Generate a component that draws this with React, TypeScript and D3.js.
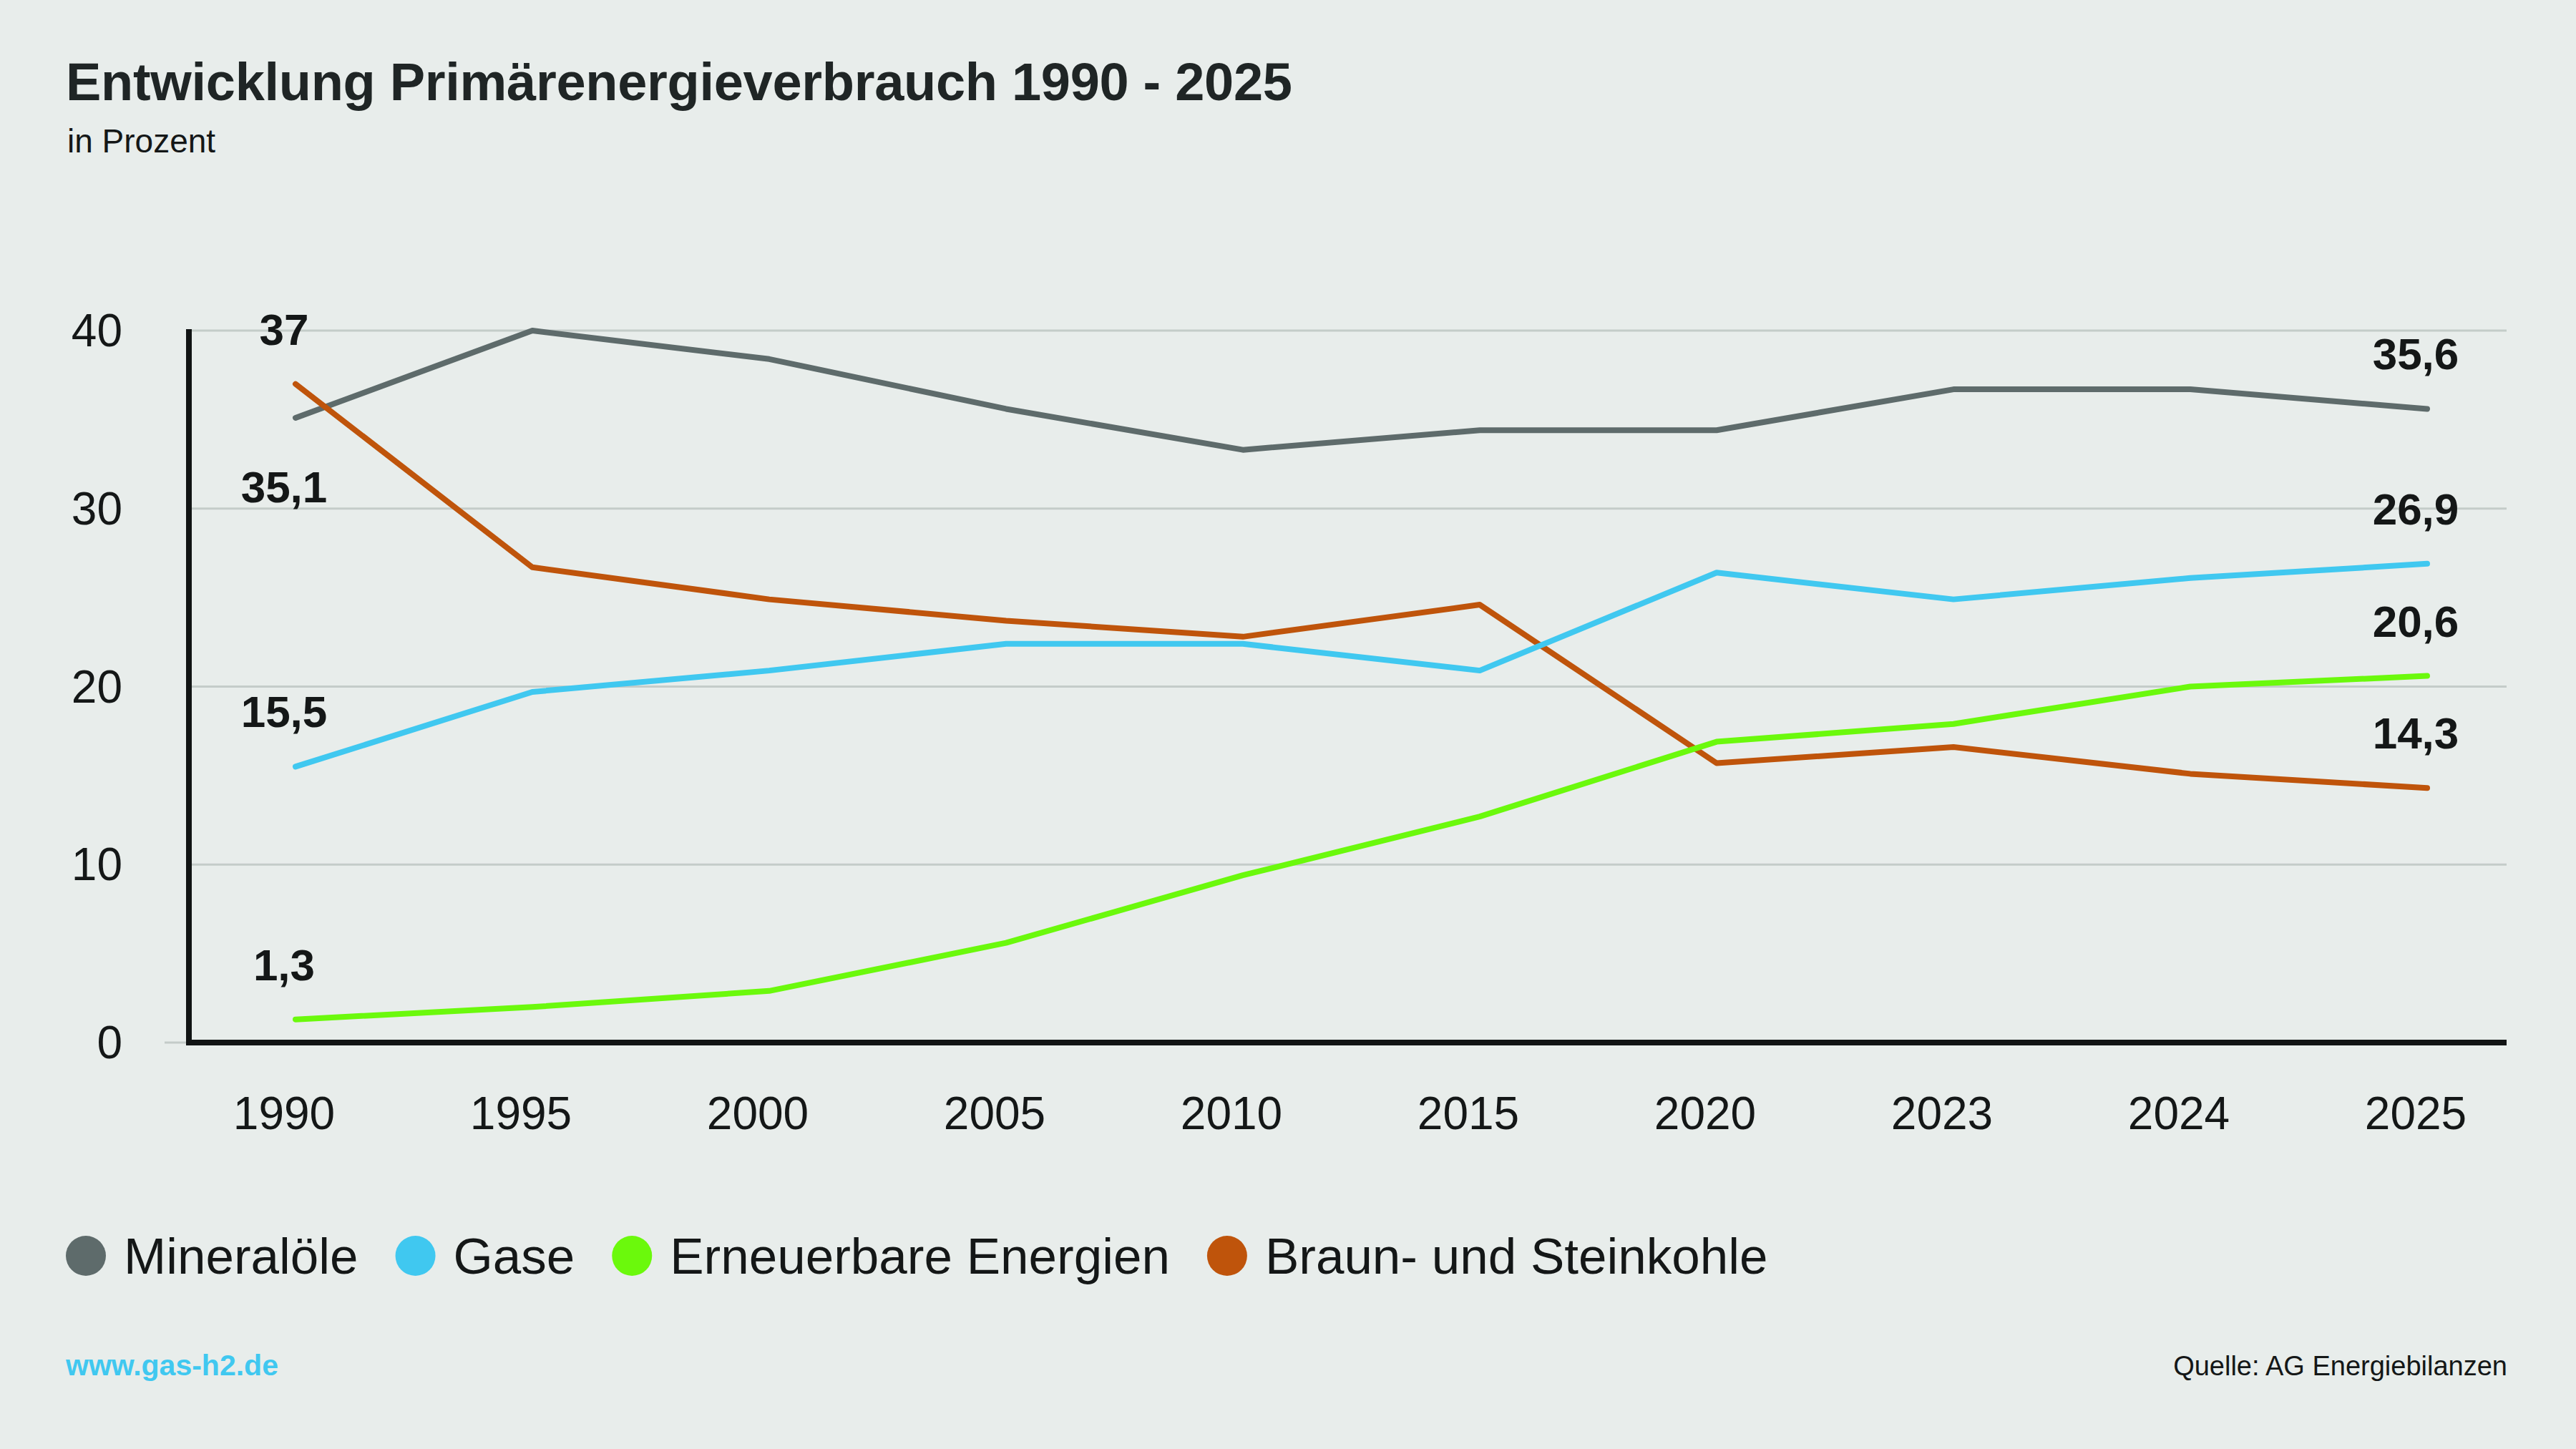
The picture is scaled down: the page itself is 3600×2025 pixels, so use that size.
import * as d3 from "d3";
import { useEffect, useRef } from "react";

const years = ["1990", "1995", "2000", "2005", "2010", "2015", "2020", "2023", "2024", "2025"];

const mineraloele = [35.1, 40.0, 38.4, 35.6, 33.3, 34.4, 34.4, 36.7, 36.7, 35.6];
const gase = [15.5, 19.7, 20.9, 22.4, 22.4, 20.9, 26.4, 24.9, 26.1, 26.9];
const erneuerbare = [1.3, 2.0, 2.9, 5.6, 9.4, 12.7, 16.9, 17.9, 20.0, 20.6];
const kohle = [37.0, 26.7, 24.9, 23.7, 22.8, 24.6, 15.7, 16.6, 15.1, 14.3];

const seriesNames = ["Mineralöle", "Gase", "Erneuerbare Energien", "Braun- und Steinkohle"];
const seriesColors = ["#5e6b6b", "#40c8f0", "#6bf90c", "#bf540b"];

const yTicks = [0, 10, 20, 30, 40];

const fmt = (v: number) => (Number.isInteger(v) ? String(v) : v.toFixed(1).replace(".", ","));

export default function App() {
    const svgRef = useRef<SVGSVGElement | null>(null);

    useEffect(() => {
        if (!svgRef.current) return;
        const W = 3600;
        const H = 2025;
        const svg = d3.select(svgRef.current);
        svg.attr("width", W).attr("height", H);
        svg.selectAll("*").remove();

        const font = "'Liberation Sans', Arial, sans-serif";
        const ink = "#141717";

        svg.append("rect").attr("width", W).attr("height", H).attr("fill", "#e8edeb");

        // title
        svg.append("text")
            .attr("x", 92)
            .attr("y", 140)
            .attr("font-family", font)
            .attr("font-weight", 700)
            .attr("font-size", 74)
            .attr("letter-spacing", -0.3)
            .attr("fill", "#1f2525")
            .text("Entwicklung Primärenergieverbrauch 1990 - 2025");
        svg.append("text")
            .attr("x", 94)
            .attr("y", 213)
            .attr("font-family", font)
            .attr("font-size", 46)
            .attr("fill", ink)
            .text("in Prozent");

        const x = d3.scalePoint<string>().domain(years).range([413, 3392]);
        const y = d3.scaleLinear().domain([0, 40]).range([1457, 462]);

        const axisLeft = 264;
        const axisRight = 3503;

        // grid
        svg.append("g")
            .selectAll("line")
            .data(yTicks)
            .join("line")
            .attr("x1", (d) => (d === 0 ? 230 : axisLeft))
            .attr("x2", axisRight)
            .attr("y1", (d) => y(d))
            .attr("y2", (d) => y(d))
            .attr("stroke", "#c4ccc9")
            .attr("stroke-width", 3);

        // axes
        svg.append("line")
            .attr("x1", axisLeft)
            .attr("x2", axisLeft)
            .attr("y1", y(40) - 2)
            .attr("y2", y(0) + 4)
            .attr("stroke", "#111414")
            .attr("stroke-width", 8);
        svg.append("line")
            .attr("x1", axisLeft - 4)
            .attr("x2", axisRight)
            .attr("y1", y(0))
            .attr("y2", y(0))
            .attr("stroke", "#111414")
            .attr("stroke-width", 8);

        svg.append("g")
            .selectAll("text")
            .data(yTicks)
            .join("text")
            .attr("x", 171)
            .attr("y", (d) => y(d) + 22)
            .attr("text-anchor", "end")
            .attr("font-family", font)
            .attr("font-size", 64)
            .attr("fill", ink)
            .text((d) => String(d));

        svg.append("g")
            .selectAll("text")
            .data(years)
            .join("text")
            .attr("x", (d) => x(d)! - 16)
            .attr("y", 1578)
            .attr("text-anchor", "middle")
            .attr("font-family", font)
            .attr("font-size", 64)
            .attr("fill", ink)
            .text((d) => d);

        const all = [mineraloele, gase, erneuerbare, kohle];
        const line = d3
            .line<number>()
            .x((_, i) => x(years[i])!)
            .y((d) => y(d));

        // draw order: gray, orange, blue, green on top
        [0, 3, 1, 2].forEach((k) => {
            svg.append("path")
                .datum(all[k])
                .attr("fill", "none")
                .attr("stroke", seriesColors[k])
                .attr("stroke-width", 8)
                .attr("stroke-linecap", "round")
                .attr("stroke-linejoin", "round")
                .attr("d", line);
        });

        // end labels, above the line except the first Mineralöle value
        const labelGap = (k: number, i: number) => (k === 0 && i === 0 ? 118 : -55);
        all.forEach((vals, k) => {
            [0, vals.length - 1].forEach((i) => {
                svg.append("text")
                    .attr("x", x(years[i])! - 16)
                    .attr("y", y(vals[i]) + labelGap(k, i))
                    .attr("text-anchor", "middle")
                    .attr("font-family", font)
                    .attr("font-weight", 700)
                    .attr("font-size", 62)
                    .attr("fill", ink)
                    .text(fmt(vals[i]));
            });
        });

        // legend
        let cx = 120;
        seriesNames.forEach((name, k) => {
            svg.append("circle")
                .attr("cx", cx)
                .attr("cy", 1755)
                .attr("r", 28)
                .attr("fill", seriesColors[k]);
            const t = svg.append("text")
                .attr("x", cx + 53)
                .attr("y", 1780)
                .attr("font-family", font)
                .attr("font-size", 71)
                .attr("fill", ink)
                .text(name);
            const w = (t.node() as SVGTextElement).getComputedTextLength();
            cx = cx + 53 + w + 80;
        });

        // footer
        svg.append("text")
            .attr("x", 92)
            .attr("y", 1922)
            .attr("font-family", font)
            .attr("font-weight", 700)
            .attr("font-size", 41)
            .attr("fill", seriesColors[1])
            .text("www.gas-h2.de");
        svg.append("text")
            .attr("x", 3504)
            .attr("y", 1922)
            .attr("text-anchor", "end")
            .attr("font-family", font)
            .attr("font-size", 38)
            .attr("fill", ink)
            .text("Quelle: AG Energiebilanzen");
    }, []);

    return <svg ref={svgRef} style={{ position: "absolute", left: 0, top: 0 }} />;
}
